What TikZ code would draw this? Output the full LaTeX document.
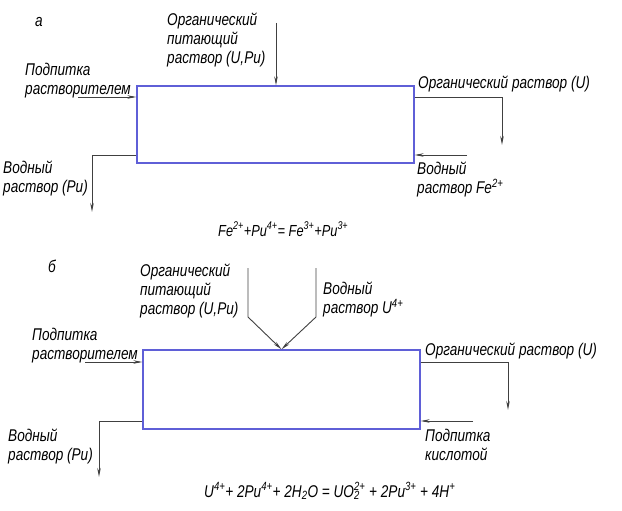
\documentclass[tikz,border=0pt]{standalone}
\usepackage{fontspec}
\setmainfont{Liberation Sans}[FakeStretch=0.8]
\usetikzlibrary{arrows.meta}
\definecolor{boxblue}{RGB}{95,95,215}
\tikzset{>/.tip={Stealth[length=9pt,width=3.5pt]},
  flow/.style={draw=black!75, line width=0.9pt},
  box/.style={draw=boxblue, line width=1.3pt, minimum width=277pt, inner sep=0},
  txt/.style={align=left, inner sep=0, anchor=north west, font=\itshape\fontsize{17}{19}\selectfont},
  eqn/.style={inner sep=0, anchor=base west, font=\itshape\fontsize{16}{19}\selectfont}}

\begin{document}
\begin{tikzpicture}[x=1pt,y=-1pt]
\useasboundingbox (0,0) rectangle (622,511);
% scheme a
\node[txt] (la) at (35,17) {а};
\node[box, minimum height=77pt] (boxa) at (275.5,124.5) {};
\node[txt] (feeda) at (167,13) {Органический\\питающий\\раствор (U,Pu)};
\node[txt] (solva) at (25,63) {Подпитка\\растворителем};
\node[txt] (aqa) at (3,161) {Водный\\раствор (Pu)};
\node[txt] (orga) at (418,76) {Органический раствор (U)};
\node[txt] (fea) at (417,162) {Водный\\раствор Fe\textsuperscript{2+}};
\node[eqn] (eqa) at (218,236) {Fe\textsuperscript{2+}+Pu\textsuperscript{4+}= Fe\textsuperscript{3+}+Pu\textsuperscript{3+}};
\coordinate (fa) at (276,23);
\coordinate (sa) at (78,97);
\coordinate (wa) at (92,155);
\coordinate (oa) at (502,97);
\coordinate (ea) at (467,155);
\draw[flow,->] (fa) -- (fa |- boxa.north);
\draw[flow,->] (sa) -- (sa -| boxa.west);
\draw[flow,->] (wa -| boxa.west) -- (wa) -- ++(0,57);
\draw[flow,->] (oa -| boxa.east) -- (oa) -- ++(0,48);
\draw[flow,->] (ea) -- (ea -| boxa.east);
% scheme b
\node[txt] (lb) at (48,260) {б};
\node[box, minimum height=79pt] (boxb) at (281.5,389.5) {};
\node[txt] (feedb) at (140,264) {Органический\\питающий\\раствор (U,Pu)};
\node[txt] (ub) at (323,282) {Водный\\раствор U\textsuperscript{4+}};
\node[txt] (solvb) at (32,328) {Подпитка\\растворителем};
\node[txt] (aqb) at (8,429) {Водный\\раствор (Pu)};
\node[txt] (orgb) at (425,343) {Органический раствор (U)};
\node[txt] (acb) at (425,429) {Подпитка\\кислотой};
\node[eqn, font=\itshape\fontsize{17}{19}\selectfont] (eqb) at (204,497) {U\textsuperscript{4+}+ 2Pu\textsuperscript{4+}+ 2H\textsubscript{2}O = UO\rlap{\textsubscript{2}}\textsuperscript{2+} + 2Pu\textsuperscript{3+} + 4H\textsuperscript{+}};
\coordinate (fb) at (248,268);
\coordinate (vb) at (316,268);
\coordinate (sb) at (85,362);
\coordinate (wb) at (99,421);
\coordinate (ob) at (508,362);
\coordinate (kb) at (473,421);
\foreach \s in {fb,vb}
  \draw[flow,->] (\s) -- ++(0,49) -- (boxb.north);
\draw[flow,->] (sb) -- (sb -| boxb.west);
\draw[flow,->] (wb -| boxb.west) -- (wb) -- ++(0,56);
\draw[flow,->] (ob -| boxb.east) -- (ob) -- ++(0,48);
\draw[flow,->] (kb) -- (kb -| boxb.east);
\end{tikzpicture}
\end{document}
